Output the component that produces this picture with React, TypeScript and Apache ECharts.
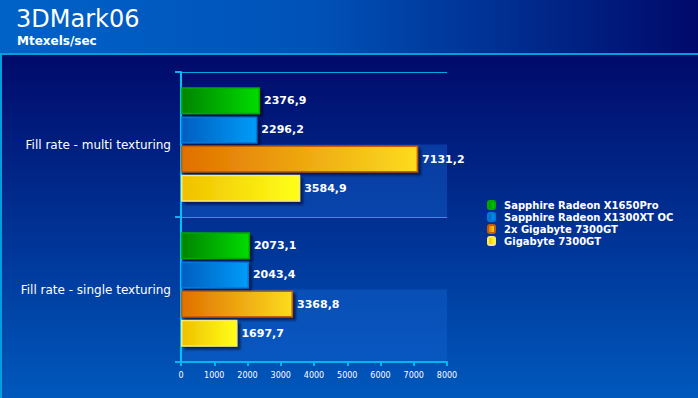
import React, { useEffect, useRef } from "react";
import * as echarts from "echarts";

const categories = ["Fill rate - multi texturing", "Fill rate - single texturing"];
const seriesNames = [
  "Sapphire Radeon X1650Pro",
  "Sapphire Radeon X1300XT OC",
  "2x Gigabyte 7300GT",
  "Gigabyte 7300GT",
];
const x1650Pro = [2376.9, 2073.1];
const x1300XT = [2296.2, 2043.4];
const gigabyte2x = [7131.2, 3368.8];
const gigabyte = [3584.9, 1697.7];
const bandSlots = ["a", "b", "c", "d"];

const palette = [
  { from: "#008400", to: "#00dc00", border: "#00a800" },
  { from: "#005ec0", to: "#009cf8", border: "#0078e0" },
  { from: "#e07000", to: "#fcdc20", border: "#c85c00" },
  { from: "#f0c000", to: "#ffff18", border: "#f8e878" },
];

const fmt = (v: number) => v.toFixed(1).replace(".", ",");

export default function App() {
  const ref = useRef<HTMLDivElement>(null);
  useEffect(() => {
    if (!ref.current) return;
    const chart = echarts.init(ref.current, null, { renderer: "svg" });
    const values = [x1650Pro, x1300XT, gigabyte2x, gigabyte];
    const series: any[] = values.map((data, i) => ({
      name: seriesNames[i],
      type: "bar",
      yAxisIndex: 0,
      data,
      barWidth: 27,
      barGap: "8%",
      itemStyle: {
        color: new echarts.graphic.LinearGradient(0, 0, 1, 0, [
          { offset: 0, color: palette[i].from },
          { offset: 1, color: palette[i].to },
        ]),
        borderColor: palette[i].border,
        borderWidth: 1.5,
        shadowColor: "rgba(0,0,20,0.55)",
        shadowOffsetX: 3,
        shadowOffsetY: 3,
        shadowBlur: 2,
      },
      label: {
        show: true,
        position: "right",
        distance: 4,
        color: "#ffffff",
        fontFamily: "DejaVu Sans",
        fontWeight: "bold",
        fontSize: 11,
        formatter: (p: any) => fmt(p.value),
      },
    }));
    chart.setOption({
      animation: false,
      backgroundColor: "transparent",
      title: [
        {
          text: "3DMark06",
          left: 11,
          top: 2,
          textStyle: { color: "#ffffff", fontFamily: "DejaVu Sans", fontWeight: "normal", fontSize: 24 },
        },
        {
          text: "Mtexels/sec",
          left: 12,
          top: 30,
          textStyle: { color: "#ffffff", fontFamily: "DejaVu Sans", fontWeight: "bold", fontSize: 12 },
        },
      ],
      legend: {
        orient: "vertical",
        left: 487,
        top: 199,
        padding: 0,
        itemWidth: 7,
        itemHeight: 8,
        itemGap: 0,
        data: seriesNames,
        textStyle: {
          color: "#ffffff",
          fontFamily: "DejaVu Sans",
          fontWeight: "bold",
          fontSize: 10,
          lineHeight: 12,
          padding: [0, 0, 0, 4],
        },
      },
      grid: { left: 181, right: 251, top: 72, bottom: 36, containLabel: false },
      xAxis: {
        type: "value",
        min: 0,
        max: 8000,
        interval: 1000,
        axisLine: { show: true, lineStyle: { color: "#00b8f0", width: 2 } },
        axisTick: { show: true, length: 4, lineStyle: { color: "#00b8f0", width: 2 } },
        splitLine: { show: false },
        axisLabel: {
          color: "#ffffff",
          fontFamily: "DejaVu Sans",
          fontSize: 8,
          margin: 9,
          formatter: (v: number) => String(v),
        },
      },
      yAxis: [
        {
          type: "category",
          data: categories,
          inverse: true,
          axisLine: { show: true, lineStyle: { color: "#00c0f8", width: 2 } },
          axisTick: { show: true, length: 6, lineStyle: { color: "#00b8f0", width: 2 } },
          splitLine: { show: true, lineStyle: { color: "#00a8e8", width: 1 } },
          axisLabel: { color: "#ffffff", fontFamily: "DejaVu Sans", fontSize: 12, margin: 10 },
        },
        {
          type: "category",
          data: bandSlots,
          inverse: true,
          position: "left",
          axisLine: { show: false },
          axisTick: { show: false },
          axisLabel: { show: false },
          splitLine: { show: false },
          splitArea: {
            show: true,
            areaStyle: { color: ["rgba(0,0,0,0)", "rgba(20,100,210,0.42)"] },
          },
        },
      ],
      series,
    });
    return () => chart.dispose();
  }, []);

  const bg = [
    "linear-gradient(#00a0e0,#00a0e0) 0 53px / 100% 2px no-repeat",
    "linear-gradient(#00a0e0,#00a0e0) 0 53px / 2px 100% no-repeat",
    "linear-gradient(to right, #0062c8 0%, #0052b8 45%, #000a6a 100%) 0 0 / 100% 53px no-repeat",
    "linear-gradient(to bottom, #000a6a 0%, #0058bc 100%) 0 55px / 100% 343px no-repeat",
  ].join(",");

  return (
    <div style={{ position: "absolute", left: 0, top: 0, width: 698, height: 398, background: bg }}>
      <div ref={ref} style={{ width: 698, height: 398 }} />
    </div>
  );
}
